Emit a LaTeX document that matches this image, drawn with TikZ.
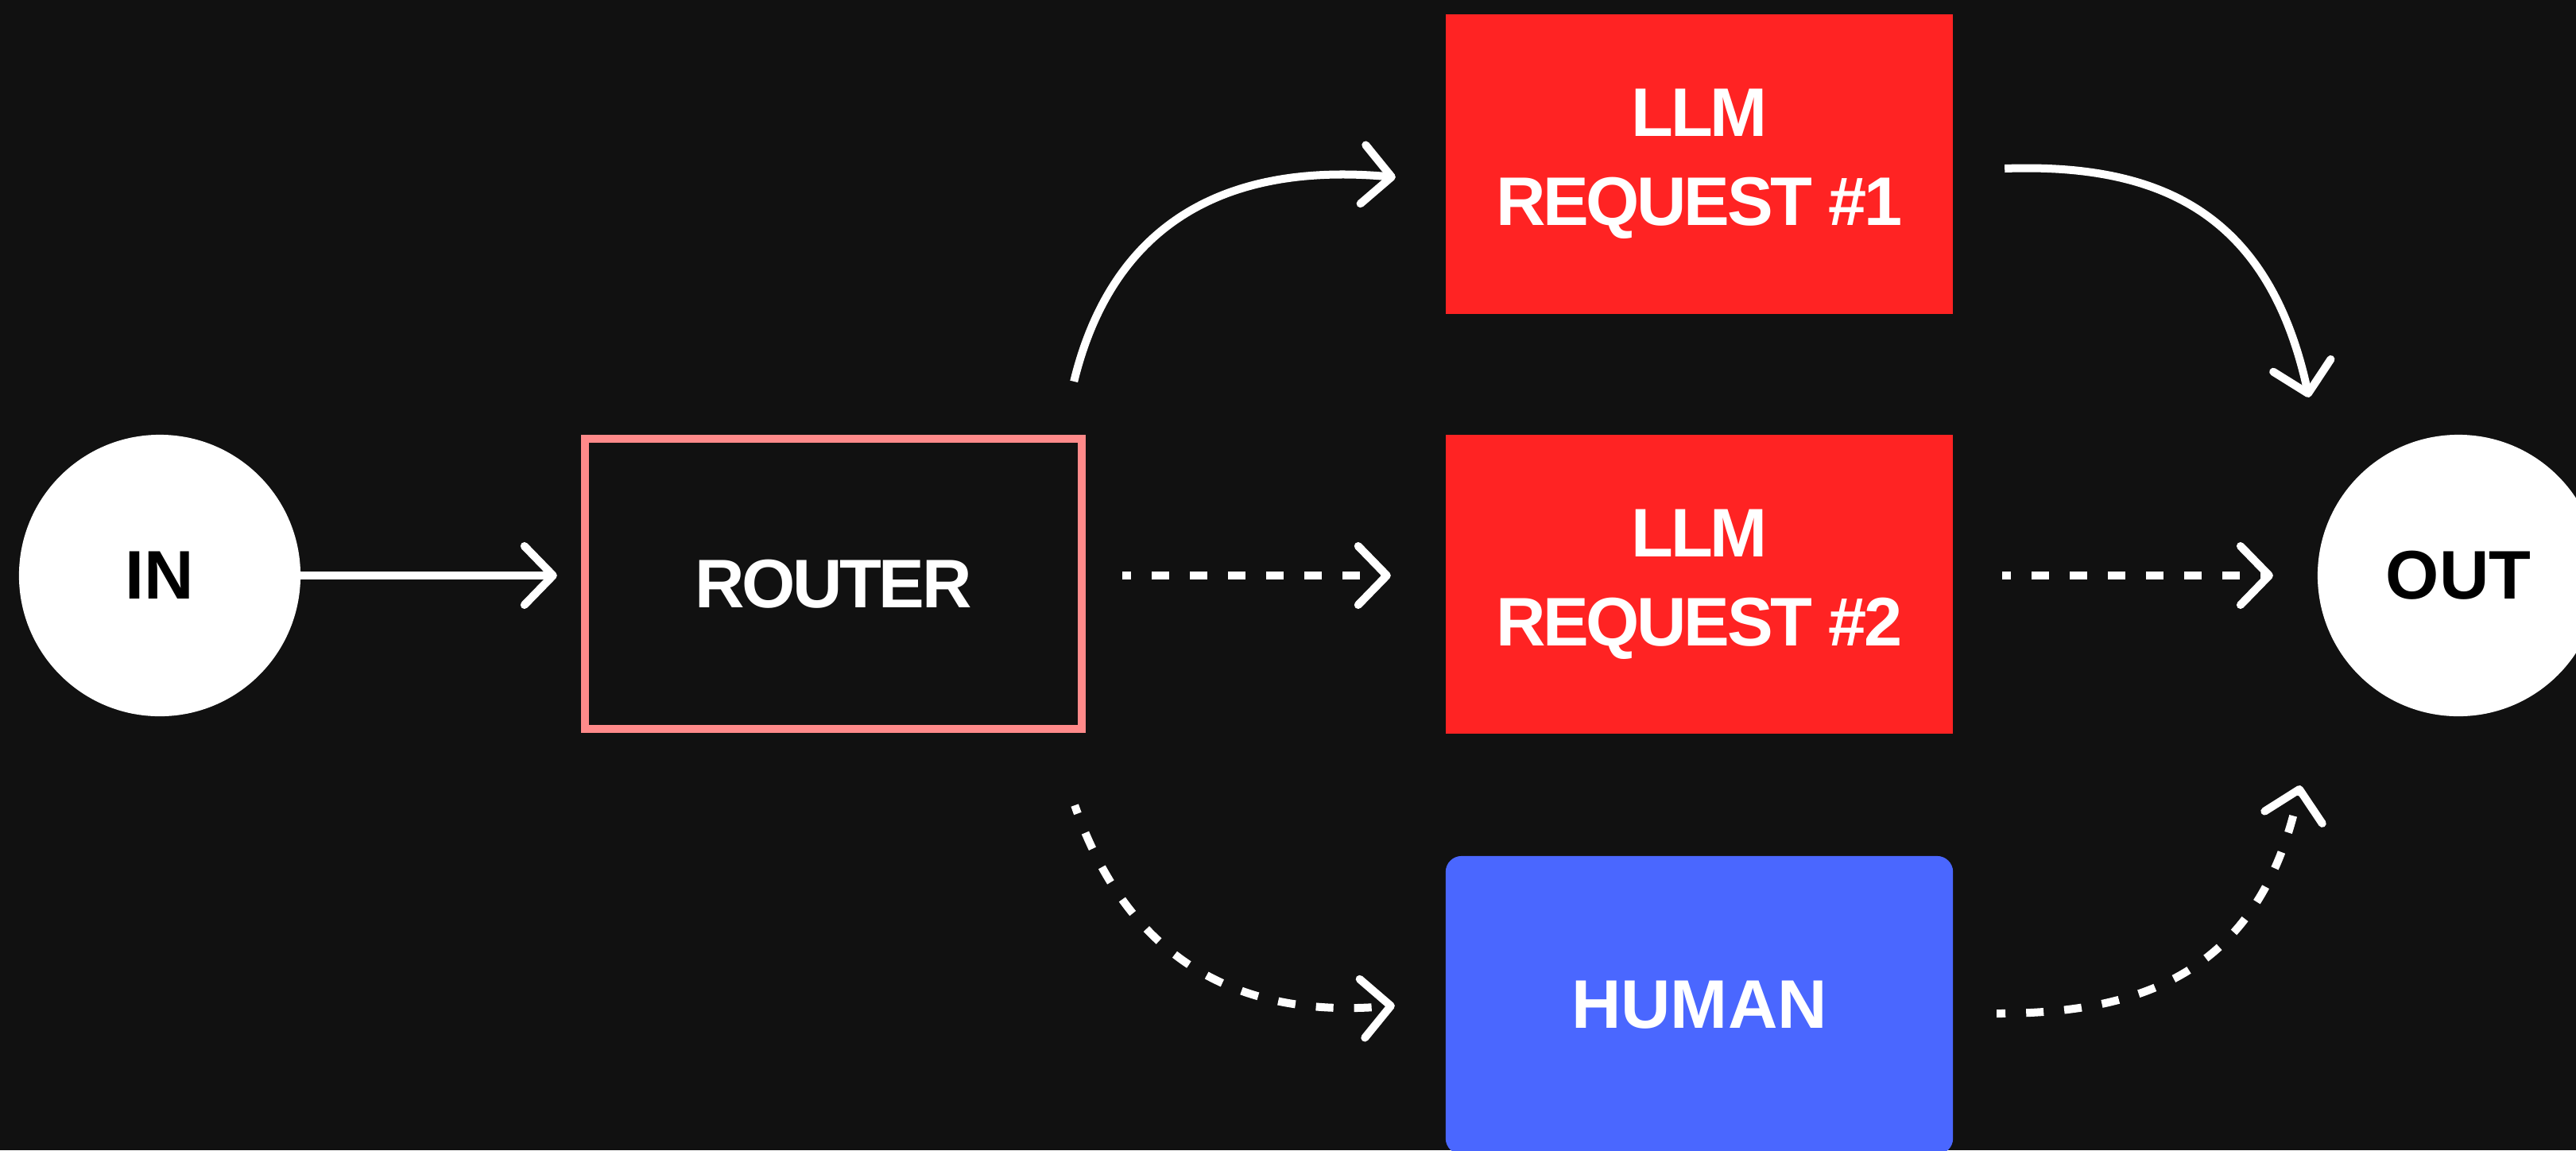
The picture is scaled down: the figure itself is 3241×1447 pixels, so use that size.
\documentclass[tikz,border=0pt]{standalone}
\usepackage{fontspec}
\setmainfont{Liberation Sans}
\usetikzlibrary{arrows.meta,calc}
\definecolor{bg}{HTML}{111111}
\definecolor{llmred}{HTML}{FF2323}
\definecolor{humanblue}{HTML}{4A67FF}
\definecolor{routerpink}{HTML}{FF8A8A}
\begin{document}
\begin{tikzpicture}[x=0.01cm,y=-0.01cm,
  lbl/.style={font=\fontsize{24.6pt}{31.9pt}\selectfont\bfseries, align=center},
  tight/.style={font=\fontsize{24.6pt}{31.9pt}\selectfont\bfseries\addfontfeature{LetterSpace=-4}},
  endpoint/.style={circle, fill=white, minimum size=3.54cm, inner sep=0pt, outer sep=0pt, text=black, lbl},
  llmbox/.style={rectangle, fill=llmred, minimum width=6.38cm, minimum height=3.76cm, inner sep=0pt, outer sep=0pt, text=white, lbl, tight},
  routerbox/.style={rectangle, draw=routerpink, line width=0.1cm, minimum width=6.25cm, minimum height=3.65cm, inner sep=0pt, outer sep=0pt, text=white, lbl, tight},
  humanbox/.style={rectangle, rounded corners=0.2cm, fill=humanblue, minimum width=6.38cm, minimum height=3.75cm, inner sep=0pt, outer sep=0pt, text=white, lbl},
  conn/.style={draw=white, line width=0.1cm, -{Straight Barb[length=0.36cm,width=0.74cm,round]}},
  dashconn/.style={conn, dash pattern=on 0.22cm off 0.26cm, dash phase=0.11cm},
]
\fill[bg] (0,0) rectangle (3241,1447);
\useasboundingbox (0,0) rectangle (3241,1447);

\node[endpoint] (in) at (201,724) {IN};
\node[routerbox] (router) at (1048.5,734.5) {ROUTER};
\node[llmbox] (req1) at (2138,206.5) {LLM\\REQUEST \#1};
\node[llmbox] (req2) at (2138,735) {LLM\\REQUEST \#2};
\node[humanbox] (human) at (2138,1264.5) {HUMAN};
\node[endpoint] (out) at (3093,724) {OUT};

% straight connectors
\draw[conn] (in.east) -- ($(in.east -| router.west)+(-35,0)$);
\draw[dashconn] ($(router.east |- in.east)+(51,0)$) -- ($(req2.west |- in.east)+(-69,0)$);
\draw[dashconn] ($(req2.east |- in.east)+(62,0)$) -- ($(out.west)+(-56,0)$);

% curved connectors
\draw[conn] ($(router.north east)+(-10,-72)$) .. controls +(39,-160) and +(-256,-23) .. ($(req1.west)+(-63,16.5)$);
\draw[conn] ($(req1.east)+(65,5.5)$) .. controls +(198,-7) and +(-50,-230) .. ($(out.north)+(-188,-47)$);
\draw[dashconn] ($(router.south east)+(-9,96)$) .. controls +(58,167) and +(-225,20) .. ($(human.west)+(-64,0.5)$);
\draw[dashconn] ($(human.east)+(55,10.5)$) .. controls +(188,0) and +(-49,232) .. ($(out.south)+(-199,87)$);
\end{tikzpicture}
\end{document}
